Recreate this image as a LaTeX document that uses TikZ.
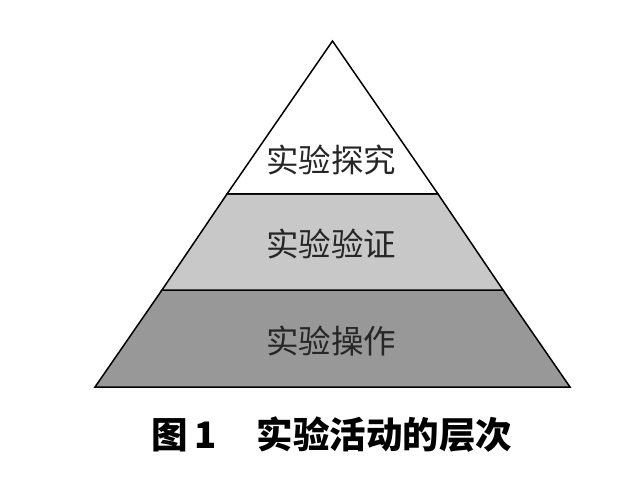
\documentclass[tikz,border=0pt]{standalone}
\usepackage{fontspec}
\newfontfamily\cjk{Noto Sans CJK SC}
\definecolor{midgray}{RGB}{200,200,200}
\definecolor{lowgray}{RGB}{152,152,152}
\begin{document}
\begin{tikzpicture}[x=1pt,y=-1pt,every node/.style={inner sep=0pt, outer sep=0pt},
  layer/.style={draw=black, line width=1.5pt, line join=miter},
  lbl/.style={font=\cjk\fontsize{32.5}{32.5}\selectfont, text=black!85},
  captext/.style={font=\cjk\bfseries\fontsize{36.5}{36.5}\selectfont, text=black}]
\useasboundingbox (0,0) rectangle (632,497);
\coordinate (apex) at (332.5,41);
\coordinate (bl) at (95,387);
\coordinate (br) at (570,387);
\coordinate (ml) at (227,194);
\coordinate (mr) at (438,194);
\coordinate (ll) at (162,290);
\coordinate (lr) at (503,290);
% layers, bottom to top
\filldraw[layer,fill=lowgray] (bl) -- (br) -- (lr) -- (ll) -- cycle;
\filldraw[layer,fill=midgray] (ll) -- (lr) -- (mr) -- (ml) -- cycle;
\filldraw[layer,fill=white] (ml) -- (mr) -- (apex) -- cycle;
\node[lbl] (top) at (331,160) {实验探究};
\node[lbl] (mid) at (331,244) {实验验证};
\node[lbl] (low) at (331,341) {实验操作};
\node[captext] (caption) at (332,435) {图\,1\hspace{1.1em}实验活动的层次};
\end{tikzpicture}
\end{document}
